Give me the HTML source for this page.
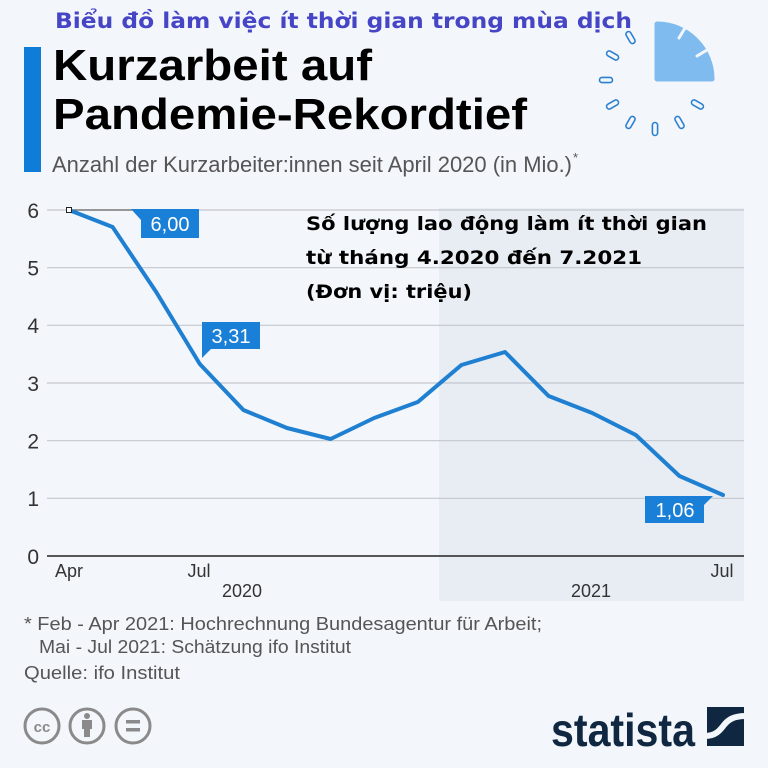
<!DOCTYPE html>
<html><head><meta charset="utf-8"><style>
html,body{margin:0;padding:0;background:#f3f6fa;}
svg{display:block;}
</style></head><body>
<svg width="768" height="768" viewBox="0 0 768 768" xmlns="http://www.w3.org/2000/svg">
<rect width="768" height="768" fill="#f3f6fa"/>
<!-- Vietnamese heading -->
<text x="55" y="28" font-family="'DejaVu Sans','Liberation Sans',sans-serif" font-weight="bold" font-size="21" fill="#4545c6" textLength="577" lengthAdjust="spacingAndGlyphs">Biểu đồ làm việc ít thời gian trong mùa dịch</text>
<!-- blue bar -->
<rect x="24" y="47" width="17" height="125" fill="#0f7dd8"/>
<text x="53" y="80" font-family="'Liberation Sans',sans-serif" font-weight="bold" font-size="44" fill="#000" textLength="319" lengthAdjust="spacingAndGlyphs">Kurzarbeit auf</text>
<text x="53" y="129" font-family="'Liberation Sans',sans-serif" font-weight="bold" font-size="44" fill="#000" textLength="474" lengthAdjust="spacingAndGlyphs">Pandemie-Rekordtief</text>
<text x="52" y="172" font-family="'Liberation Sans',sans-serif" font-size="22" fill="#555" textLength="520" lengthAdjust="spacingAndGlyphs">Anzahl der Kurzarbeiter:innen seit April 2020 (in Mio.)</text>
<text x="573" y="162" font-family="'Liberation Sans',sans-serif" font-size="13" fill="#555">*</text>
<!-- clock icon -->
<path d="M657,24 L657,79 L712,79 A55,55 0 0 0 657,24 Z" fill="#7fbbee" stroke="#7fbbee" stroke-width="5" stroke-linejoin="round"/>
<line x1="679" y1="38" x2="685" y2="28" stroke="#f3f6fa" stroke-width="3" stroke-linecap="round"/>
<line x1="697" y1="56" x2="707" y2="50" stroke="#f3f6fa" stroke-width="3" stroke-linecap="round"/>
<g fill="none" stroke="#2c80d0" stroke-width="1.6">
<rect x="-6.5" y="-2.6" width="13" height="5.2" rx="2.6" transform="translate(655,80) rotate(30) translate(49,0)"/>
<rect x="-6.5" y="-2.6" width="13" height="5.2" rx="2.6" transform="translate(655,80) rotate(60) translate(49,0)"/>
<rect x="-6.5" y="-2.6" width="13" height="5.2" rx="2.6" transform="translate(655,80) rotate(90) translate(49,0)"/>
<rect x="-6.5" y="-2.6" width="13" height="5.2" rx="2.6" transform="translate(655,80) rotate(120) translate(49,0)"/>
<rect x="-6.5" y="-2.6" width="13" height="5.2" rx="2.6" transform="translate(655,80) rotate(150) translate(49,0)"/>
<rect x="-6.5" y="-2.6" width="13" height="5.2" rx="2.6" transform="translate(655,80) rotate(180) translate(49,0)"/>
<rect x="-6.5" y="-2.6" width="13" height="5.2" rx="2.6" transform="translate(655,80) rotate(210) translate(49,0)"/>
<rect x="-6.5" y="-2.6" width="13" height="5.2" rx="2.6" transform="translate(655,80) rotate(240) translate(49,0)"/>
</g>
<!-- shaded 2021 region -->
<rect x="439" y="208" width="305" height="393" fill="#e8edf4"/>
<!-- gridlines -->
<g stroke="#c4c7cc" stroke-width="1.2">
<line x1="47" y1="210" x2="744" y2="210"/>
<line x1="47" y1="267.7" x2="744" y2="267.7"/>
<line x1="47" y1="325.3" x2="744" y2="325.3"/>
<line x1="47" y1="383" x2="744" y2="383"/>
<line x1="47" y1="440.7" x2="744" y2="440.7"/>
<line x1="47" y1="498.3" x2="744" y2="498.3"/>
</g>
<line x1="69" y1="210" x2="132" y2="210" stroke="#666" stroke-width="1.2"/>
<line x1="47" y1="556" x2="744" y2="556" stroke="#222" stroke-width="1.6"/>
<!-- y labels -->
<g font-family="'Liberation Sans',sans-serif" font-size="21" fill="#333" text-anchor="end">
<text x="39" y="218">6</text>
<text x="39" y="275.5">5</text>
<text x="39" y="333">4</text>
<text x="39" y="391">3</text>
<text x="39" y="448.5">2</text>
<text x="39" y="506">1</text>
<text x="39" y="564">0</text>
</g>
<!-- x labels -->
<g font-family="'Liberation Sans',sans-serif" font-size="18" fill="#333" text-anchor="middle">
<text x="69" y="577">Apr</text>
<text x="199" y="577">Jul</text>
<text x="722" y="577">Jul</text>
<text x="242" y="597">2020</text>
<text x="591" y="597">2021</text>
</g>
<!-- overlay Vietnamese -->
<g font-family="'DejaVu Sans','Liberation Sans',sans-serif" font-weight="bold" font-size="19" fill="#000">
<text x="306" y="230" textLength="401" lengthAdjust="spacingAndGlyphs">Số lượng lao động làm ít thời gian</text>
<text x="306" y="264" textLength="336" lengthAdjust="spacingAndGlyphs">từ tháng 4.2020 đến 7.2021</text>
<text x="306" y="298" textLength="166" lengthAdjust="spacingAndGlyphs">(Đơn vị: triệu)</text>
</g>
<!-- line series -->
<polyline fill="none" stroke="#1f80d2" stroke-width="4" stroke-linejoin="round" stroke-linecap="round"
points="69,210 112.6,227 156.2,292 199.8,364 243.4,410 287,428 330.6,439 374.2,418 417.8,402 461.4,365 505,352 548.6,396 592.2,413 635.8,435 679.4,476 723,495"/>
<rect x="66.5" y="207.5" width="5" height="5" fill="#fff" stroke="#222" stroke-width="1"/>
<!-- labels -->
<g fill="#1a7fd7">
<polygon points="131,209 199,209 199,238 141,238 141,220"/>
<polygon points="202,322 260,322 260,349 211,349 202,358"/>
<polygon points="645,496 713,496 704,505 704,523 645,523"/>
</g>
<g font-family="'Liberation Sans',sans-serif" font-size="20" fill="#fff" text-anchor="middle">
<text x="170" y="231">6,00</text>
<text x="231" y="343">3,31</text>
<text x="675" y="517">1,06</text>
</g>
<!-- footnotes -->
<g font-family="'Liberation Sans',sans-serif" font-size="18" fill="#555">
<text x="24" y="630" textLength="518" lengthAdjust="spacingAndGlyphs">* Feb - Apr 2021: Hochrechnung Bundesagentur für Arbeit;</text>
<text x="39" y="653" textLength="312" lengthAdjust="spacingAndGlyphs">Mai - Jul 2021: Schätzung ifo Institut</text>
<text x="24" y="679" textLength="156" lengthAdjust="spacingAndGlyphs">Quelle: ifo Institut</text>
</g>
<!-- cc icons -->
<g fill="none" stroke="#8a8a8a" stroke-width="3">
<circle cx="42" cy="726" r="17"/>
<circle cx="87" cy="726" r="17"/>
<circle cx="133" cy="726" r="17"/>
</g>
<text x="42" y="732" font-family="'Liberation Sans',sans-serif" font-weight="bold" font-size="15" fill="#8a8a8a" text-anchor="middle">cc</text>
<circle cx="87" cy="716" r="3" fill="#8a8a8a"/>
<rect x="82" y="720" width="10" height="9" fill="#8a8a8a"/>
<rect x="84" y="728" width="6" height="9" fill="#8a8a8a"/>
<rect x="126" y="720" width="14" height="3.5" fill="#8a8a8a"/>
<rect x="126" y="728" width="14" height="3.5" fill="#8a8a8a"/>
<!-- statista logo -->
<text x="551" y="746" font-family="'Liberation Sans',sans-serif" font-weight="bold" font-size="46" fill="#0f2741" textLength="144" lengthAdjust="spacingAndGlyphs">statista</text>
<rect x="707" y="707" width="37" height="39" fill="#0f2741"/>
<path d="M705,736 C716,736 720,730 724,725 C728,720 733,716 746,716" fill="none" stroke="#f3f6fa" stroke-width="6"/>
</svg>
</body></html>
